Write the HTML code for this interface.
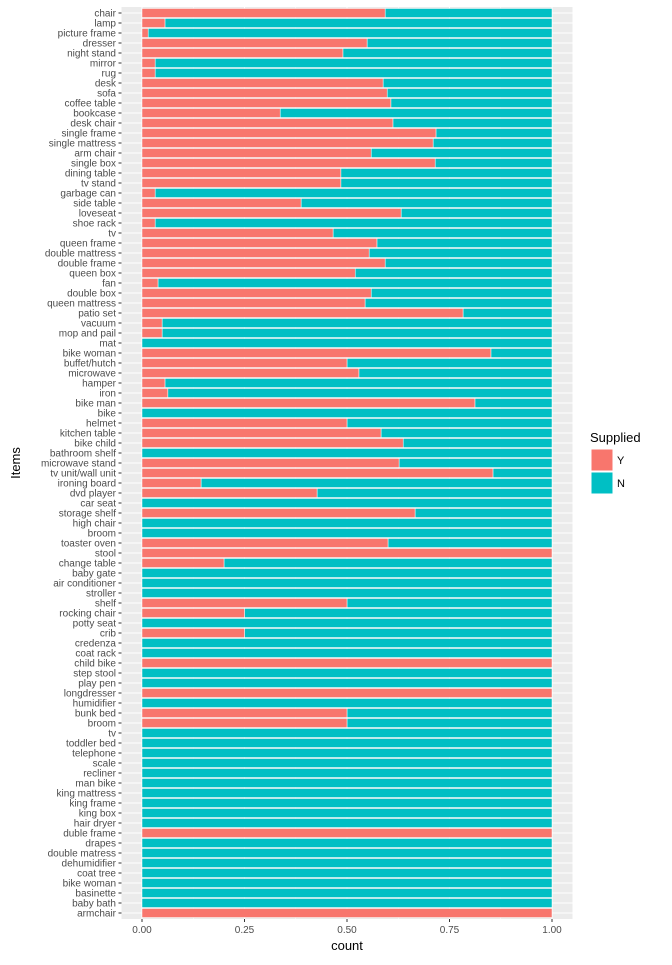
<!DOCTYPE html>
<html><head><meta charset="utf-8"><style>
body{margin:0;background:#fff;}
svg text{font-family:"Liberation Sans",Arial,sans-serif;}
</style></head><body>
<svg id="chart" width="672" height="960" xmlns="http://www.w3.org/2000/svg">
<rect x="121.5" y="7" width="451" height="912" fill="#EBEBEB"/>
<g id="grid"></g><g id="bars"></g><g id="yaxis"></g><g id="xaxis"></g>
<text x="347" y="950" font-size="13" text-anchor="middle" fill="#000">count</text>
<text x="20" y="463" font-size="13" text-anchor="middle" fill="#000" transform="rotate(-90 20 463)">Items</text>
<g>
<text x="590" y="442" font-size="13" fill="#000">Supplied</text>
<rect x="591" y="449" width="22" height="22" fill="#F8766D" stroke="#fff"/>
<text x="617" y="464" font-size="11" fill="#000">Y</text>
<rect x="591" y="472" width="22" height="22" fill="#00BFC4" stroke="#fff"/>
<text x="617" y="487" font-size="11" fill="#000">N</text>
</g>
</svg>
<script>
const categories=["chair","lamp","picture frame","dresser","night stand","mirror","rug","desk","sofa","coffee table","bookcase","desk chair","single frame","single mattress","arm chair","single box","dining table","tv stand","garbage can","side table","loveseat","shoe rack","tv","queen frame","double mattress","double frame","queen box","fan","double box","queen mattress","patio set","vacuum","mop and pail","mat","bike woman","buffet/hutch","microwave","hamper","iron","bike man","bike","helmet","kitchen table","bike child","bathroom shelf","microwave stand","tv unit/wall unit","ironing board","dvd player","car seat","storage shelf","high chair","broom","toaster oven","stool","change table","baby gate","air conditioner","stroller","shelf","rocking chair","potty seat","crib","credenza","coat rack","child bike","step stool","play pen","longdresser","humidifier","bunk bed","broom","tv","toddler bed","telephone","scale","recliner","man bike","king mattress","king frame","king box","hair dryer","duble frame","drapes","double matress","dehumidifier","coat tree","bike woman","basinette","baby bath","armchair"];
const suppliedY=[0.593,0.056,0.015,0.549,0.49,0.032,0.032,0.588,0.598,0.607,0.337,0.612,0.717,0.71,0.559,0.715,0.485,0.485,0.032,0.388,0.632,0.032,0.466,0.573,0.554,0.593,0.52,0.039,0.559,0.544,0.783,0.049,0.049,0,0.851,0.5,0.529,0.056,0.063,0.812,0,0.5,0.583,0.637,0,0.627,0.856,0.144,0.427,0,0.666,0,0,0.6,1,0.2,0,0,0,0.5,0.25,0,0.25,0,0,1,0,0,1,0,0.5,0.5,0,0,0,0,0,0,0,0,0,0,1,0,0,0,0,0,0,0,1];
const xTicks=[0,0.25,0.5,0.75,1];
const xTickLabels=["0.00","0.25","0.50","0.75","1.00"];
const NS="http://www.w3.org/2000/svg";
const X0=142,XW=410,Y0=13,STEP=10;
const xs=v=>X0+v*XW;
const ys=i=>Y0+i*STEP;
function mk(tag,attrs,parent){const e=document.createElementNS(NS,tag);for(const k in attrs)e.setAttribute(k,attrs[k]);document.getElementById(parent).appendChild(e);return e;}
// grid
for(let i=0;i<xTicks.length-1;i++){const m=(xTicks[i]+xTicks[i+1])/2;const g=mk('line',{x1:xs(m),x2:xs(m),y1:7,y2:919,stroke:'#fff','stroke-width':0.5},'grid');

}
xTicks.forEach((t,i)=>{const g=mk('line',{x1:xs(t),x2:xs(t),y1:7,y2:919,stroke:'#fff','stroke-width':1},'grid');


const tk=mk('line',{x1:xs(t),x2:xs(t),y1:919,y2:922,stroke:'#333'},'xaxis');


const tl=mk('text',{x:xs(t),y:933,'font-size':10,'text-anchor':'middle',fill:'#4d4d4d'},'xaxis');tl.textContent=xTickLabels[i];

});
categories.forEach((c,i)=>{const y=ys(i);
const hg=mk('line',{x1:121.5,x2:572.5,y1:y,y2:y,stroke:'#fff','stroke-width':1},'grid');


const v=suppliedY[i];
const bn=mk('rect',{x:xs(v),y:y-4.5,width:xs(1)-xs(v),height:9,fill:'#00BFC4',stroke:'#fff','stroke-width':0.5},'bars');


if(v>0){const by=mk('rect',{x:xs(0),y:y-4.5,width:xs(v)-xs(0),height:9,fill:'#F8766D',stroke:'#fff','stroke-width':0.5},'bars');

}
const tk=mk('line',{x1:118.5,x2:121.5,y1:y,y2:y,stroke:'#333'},'yaxis');


const tl=mk('text',{x:116,y:y+3.5,'font-size':10,'text-anchor':'end',fill:'#4d4d4d'},'yaxis');tl.textContent=c;

});
</script>
</body></html>
